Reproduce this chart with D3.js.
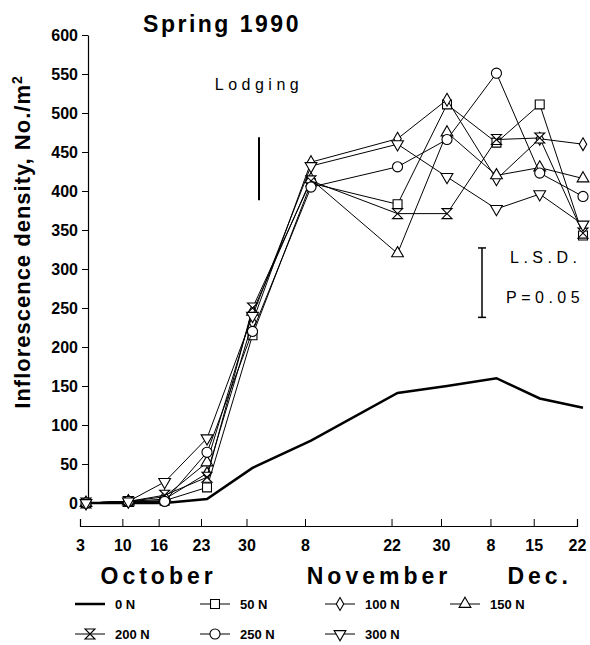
<!DOCTYPE html>
<html>
<head>
<meta charset="utf-8">
<script src="https://cdn.jsdelivr.net/npm/d3@7"></script>
<style>
  body { margin: 0; background: #fff; }
  svg { display: block; font-family: "Liberation Sans", Arial, sans-serif; }
  .tick text { font-weight: bold; }
</style>
</head>
<body>
<div id="chart-area"></div>
<script>
// Data
const dates = ['1990-10-03', '1990-10-10', '1990-10-16', '1990-10-23', '1990-10-30',
	'1990-11-08', '1990-11-22', '1990-11-30', '1990-12-08', '1990-12-15', '1990-12-22']
const tickLabels = ['3', '10', '16', '23', '30', '8', '22', '30', '8', '15', '22']
const seriesNames = ['0 N', '50 N', '100 N', '150 N', '200 N', '250 N', '300 N']
const n0   = [0, 0, 0, 5, 45, 80, 141, 150, 160, 134, 122]
const n50  = [0, 2, 3, 20, 215, 410, 383, 511, 462, 511, 343]
const n100 = [0, 2, 5, 38, 232, 437, 467, 517, 415, 467, 460]
const n150 = [0, 2, 8, 52, 245, 415, 320, 475, 420, 430, 416]
const n200 = [0, 2, 10, 33, 250, 413, 371, 371, 466, 468, 346]
const n250 = [0, 2, 2, 65, 220, 405, 431, 466, 551, 423, 393]
const n300 = [0, 2, 27, 83, 240, 432, 460, 418, 377, 396, 357]
const yTicks = d3.range(0, 601, 50)
const months = ['October', 'November', 'Dec.']
const monthAnchors = ['1990-10-15', '1990-11-19', '1990-12-15']
const lodgingDate = '1990-10-31'
const lodgingRange = [388, 469]
const lsdRange = [238, 327]

const canvas = { width: 590, height: 645 }
const parse = d3.timeParse('%Y-%m-%d')
const days = dates.map(parse)

const svg = d3.select('#chart-area')
	.append('svg')
		.attr('width', canvas.width)
		.attr('height', canvas.height)

// Scales (the printed axis is not quite linear in time, so a piecewise time scale)
const x = d3.scaleTime()
	.domain(['1990-10-03', '1990-10-23', '1990-11-08', '1990-12-22'].map(parse))
	.range([86, 207, 311, 583])
const y = d3.scaleLinear()
	.domain([0, 600])
	.range([503, 35])

// Y axis
const yAxis = svg.append('g')
	.attr('transform', 'translate(88, 0)')
	.call(d3.axisLeft(y).tickValues(yTicks).tickSize(6).tickSizeOuter(0).tickPadding(4))
yAxis.selectAll('text').attr('font-size', 16).attr('fill', '#000')
yAxis.select('.domain').attr('stroke-width', 1.2)

// X axis, ticks pointing up, offset below the plot (printed slightly left of the data)
const xAxis = svg.append('g')
	.attr('transform', 'translate(-6, 526)')
	.call(d3.axisBottom(x).tickValues(days).tickSize(-7).tickPadding(14)
		.tickFormat((d, i) => tickLabels[i]))
xAxis.selectAll('text').attr('font-size', 16).attr('fill', '#000')
xAxis.select('.domain').attr('stroke-width', 1.2)

svg.selectAll('.month')
	.data(months)
	.enter().append('text')
		.attr('class', 'month')
		.attr('x', (d, i) => x(parse(monthAnchors[i])))
		.attr('y', 584)
		.attr('text-anchor', 'middle')
		.attr('font-size', 23)
		.attr('font-weight', 'bold')
		.attr('letter-spacing', 4)
		.text(d => d)

// Labels
svg.append('text')
	.attr('x', 222)
	.attr('y', 32)
	.attr('text-anchor', 'middle')
	.attr('font-size', 23)
	.attr('font-weight', 'bold')
	.attr('letter-spacing', 2.5)
	.text('Spring 1990')

svg.append('text')
	.attr('transform', 'translate(30, 242) rotate(-90)')
	.attr('text-anchor', 'middle')
	.attr('font-size', 22)
	.attr('font-weight', 'bold')
	.attr('letter-spacing', 1)
	.html('Inflorescence density, No./m<tspan dy="-8" font-size="14">2</tspan>')

// Lodging marker
const lx = x(parse(lodgingDate))
svg.append('text')
	.attr('x', lx)
	.attr('y', 90)
	.attr('text-anchor', 'middle')
	.attr('font-size', 16)
	.attr('letter-spacing', 4.5)
	.text('Lodging')
svg.append('line')
	.attr('x1', lx).attr('x2', lx)
	.attr('y1', y(lodgingRange[1])).attr('y2', y(lodgingRange[0]))
	.attr('stroke', '#000').attr('stroke-width', 2)

// LSD bar
const lsd = svg.append('g').attr('transform', 'translate(482, 0)')
lsd.append('line')
	.attr('y1', y(lsdRange[0])).attr('y2', y(lsdRange[1]))
	.attr('stroke', '#000').attr('stroke-width', 1.5)
lsdRange.forEach(v => {
	lsd.append('line')
		.attr('x1', -4).attr('x2', 4)
		.attr('y1', y(v)).attr('y2', y(v))
		.attr('stroke', '#000').attr('stroke-width', 1.5)
})
lsd.append('text')
	.attr('x', 28).attr('y', 263)
	.attr('font-size', 16).attr('letter-spacing', 4.5)
	.text('L.S.D.')
lsd.append('text')
	.attr('x', 24).attr('y', 303)
	.attr('font-size', 16).attr('letter-spacing', 4.5)
	.text('P=0.05')

// Marker shapes
const sym = (type, size) => d3.symbol().type(type).size(size)()
const hourglass = 'M-5,-5L5,-5L-5,5L5,5Z'
const markers = [
	null,
	sym(d3.symbolSquare, 80),
	sym(d3.symbolDiamond, 48),
	sym(d3.symbolTriangle, 60),
	hourglass,
	sym(d3.symbolCircle, 80),
	sym(d3.symbolTriangle, 60)
]
const rotations = [0, 0, 0, 0, 0, 0, 180]
const values = [n0, n50, n100, n150, n200, n250, n300]

const line = d3.line()
	.x((d, i) => x(days[i]))
	.y(d => y(d))

values.forEach((vals, s) => {
	const g = svg.append('g')
	g.append('path')
		.datum(vals)
		.attr('d', line)
		.attr('fill', 'none')
		.attr('stroke', '#000')
		.attr('stroke-width', s === 0 ? 2.5 : 1)
	if (markers[s]) {
		g.selectAll('path.mark')
			.data(vals)
			.enter().append('path')
				.attr('class', 'mark')
				.attr('d', markers[s])
				.attr('transform', (d, i) => `translate(${x(days[i])}, ${y(d)}) rotate(${rotations[s]})`)
				.attr('fill', '#fff')
				.attr('stroke', '#000')
				.attr('stroke-width', 1.1)
	}
})

// Legend
const legendPos = [[75, 604], [200, 604], [325, 604], [450, 604], [75, 634], [200, 634], [325, 634]]
seriesNames.forEach((name, s) => {
	const row = svg.append('g')
		.attr('transform', `translate(${legendPos[s][0]}, ${legendPos[s][1]})`)
	row.append('line')
		.attr('x1', 0).attr('x2', 30)
		.attr('stroke', '#000')
		.attr('stroke-width', s === 0 ? 2.5 : 1)
	if (markers[s]) {
		row.append('path')
			.attr('d', markers[s])
			.attr('transform', `translate(15, 0) rotate(${rotations[s]})`)
			.attr('fill', '#fff')
			.attr('stroke', '#000')
			.attr('stroke-width', 1.1)
	}
	row.append('text')
		.attr('x', 40)
		.attr('y', 5)
		.attr('font-size', 13)
		.attr('font-weight', 'bold')
		.text(name)
})
</script>
</body>
</html>
